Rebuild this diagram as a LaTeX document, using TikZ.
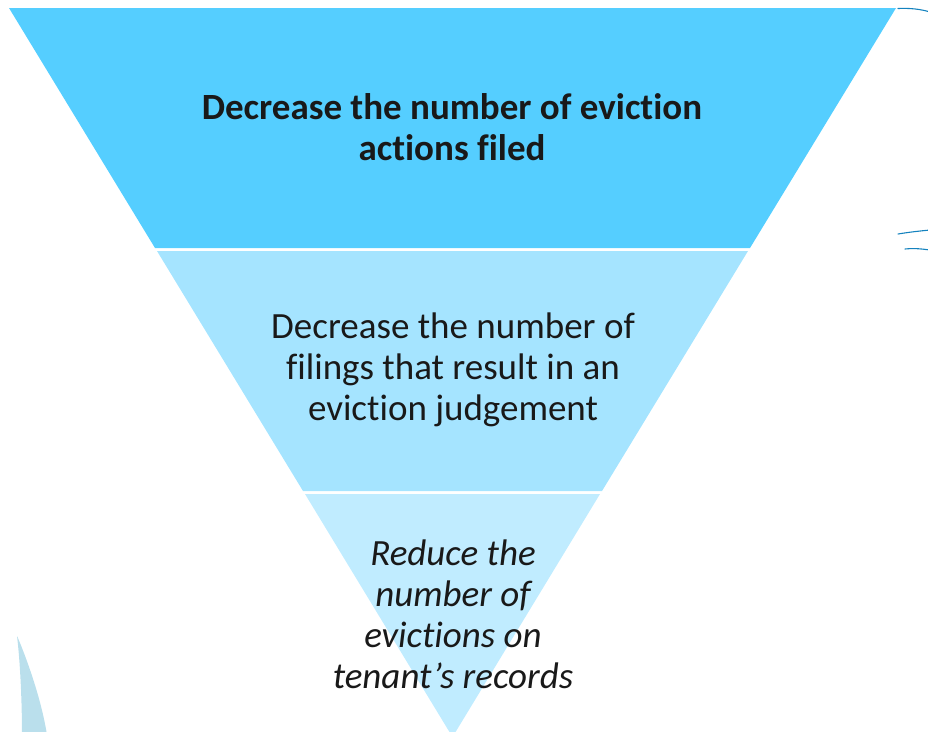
\documentclass[tikz,border=0pt]{standalone}
\usepackage{fontspec}
\setmainfont{Carlito}[Ligatures={NoCommon}]
\usetikzlibrary{positioning, calc}

\definecolor{bandtop}{RGB}{85,206,255}
\definecolor{bandmid}{RGB}{165,228,255}
\definecolor{bandlow}{RGB}{192,236,255}
\definecolor{inkline}{RGB}{20,130,190}
\definecolor{leafblue}{RGB}{186,223,236}

\begin{document}
\begin{tikzpicture}[
      x=1pt, y=-1pt,
      band/.style={draw=none},
      label/.style={align=center, text=black!90, font=\fontsize{37}{41}\selectfont},
      stroke/.style={draw=inkline, line width=1.1pt, line cap=round}
    ]
    \useasboundingbox (0,0) rectangle (928,731);
    \clip (0,0) rectangle (928,731);

    % funnel bands, top to bottom
    \fill[band, bandtop] (9,8) -- (896,8) -- (750,248) -- (155,248) -- cycle;
    \fill[band, bandmid] (157,251) -- (748,251) -- (602,491) -- (303,491) -- cycle;
    \fill[band, bandlow] (305,494) -- (600,494) -- (452.5,737) -- cycle;

    \node[label, font=\fontsize{37}{41}\selectfont\bfseries] (filed) at (452,127)
      {Decrease the number of eviction\\actions filed};
    \node[label] (judgement) at (453,370)
      {Decrease the number of\\filings that result in an\\eviction judgement};
    \node[label, font=\fontsize{37}{41}\selectfont\itshape] (records) at (453,614)
      {Reduce the\\number of\\evictions on\\tenant’s records};

    % strokes at the right edge
    \draw[stroke] (898,8.5) .. controls (910,8) and (920,9) .. (930,12);
    \draw[stroke] (898,234) .. controls (910,232) and (920,231) .. (930,230);
    \draw[stroke] (905,249) .. controls (915,248) and (922,249) .. (930,250);

    % leaf in the lower left
    \fill[leafblue] (17,636) .. controls (19,640) and (40,690) .. (47,735)
      -- (22,735) .. controls (22,700) and (20,660) .. (17,636) -- cycle;
  \end{tikzpicture}
\end{document}
